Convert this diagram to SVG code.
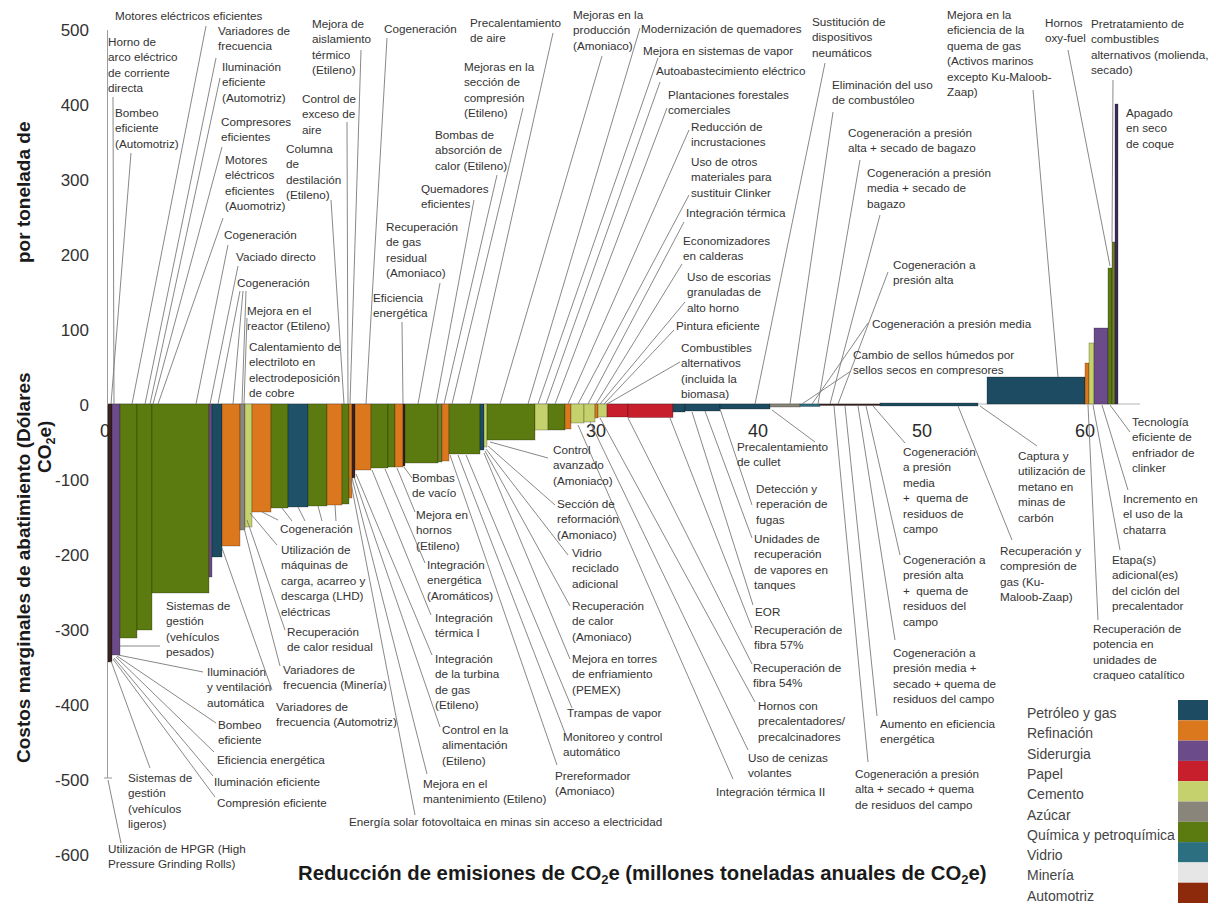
<svg xmlns="http://www.w3.org/2000/svg" width="1216" height="905" viewBox="0 0 1216 905">
<style>
  .t{font-family:"Liberation Sans",Arial,sans-serif;font-size:11.7px;fill:#333}
  .tick{font-family:"Liberation Sans",Arial,sans-serif;font-size:17px;fill:#333}
  .xtick{font-family:"Liberation Sans",Arial,sans-serif;font-size:18px;fill:#2a2a2a;text-anchor:middle}
  .lg{font-family:"Liberation Sans",Arial,sans-serif;font-size:14px;fill:#444}
  .ttl{font-family:"Liberation Sans",Arial,sans-serif;font-size:19px;font-weight:bold;fill:#1a1a1a}
  .xttl{font-family:"Liberation Sans",Arial,sans-serif;font-size:20.3px;font-weight:bold;fill:#1a1a1a}
  .ld line{stroke:#7a7a7a;stroke-width:0.9}
  .bars rect{stroke:#000;stroke-opacity:0.3;stroke-width:0.8}
  .P{fill:#1d4b61}.R{fill:#db781e}.S{fill:#6b4b89}.Pa{fill:#c71f2b}.C{fill:#c5d16c}
  .A{fill:#8a857a}.Q{fill:#5b7b10}.V{fill:#2c6f80}.M{fill:#e6e6e6}.Au{fill:#3a2222}
  .O{fill:#6d7d28}.D{fill:#3e2b58}
</style>

<!-- axes -->
<g id="axes">
  <line x1="107.5" y1="30" x2="107.5" y2="778" stroke="#9a9a9a" stroke-width="1"/>
  <line x1="104" y1="778" x2="112" y2="778" stroke="#9a9a9a" stroke-width="1"/>
  <line x1="107" y1="404" x2="1140" y2="404" stroke="#b5b5b5" stroke-width="1"/>
  <g class="tick" text-anchor="end">
    <text x="89" y="36">500</text>
    <text x="89" y="111">400</text>
    <text x="89" y="186">300</text>
    <text x="89" y="261">200</text>
    <text x="89" y="336">100</text>
    <text x="89" y="411">0</text>
    <text x="89" y="486">-100</text>
    <text x="89" y="561">-200</text>
    <text x="89" y="636">-300</text>
    <text x="89" y="711">-400</text>
    <text x="89" y="786">-500</text>
    <text x="89" y="861">-600</text>
  </g>
  <g class="xtick">
    <text x="105" y="437">0</text>
    <text x="269" y="437">10</text>
    <text x="432" y="437">20</text>
    <text x="596" y="437">30</text>
    <text x="758" y="437">40</text>
    <text x="922" y="437">50</text>
    <text x="1085" y="437">60</text>
  </g>
  <text class="ttl" transform="translate(30,763) rotate(-90)">Costos marginales de abatimiento (Dólares</text>
  <text class="ttl" transform="translate(30,263) rotate(-90)">por tonelada de</text>
  <text class="ttl" transform="translate(51,473) rotate(-90)">CO<tspan font-size="12.5" dy="4">2</tspan><tspan dy="-4">e)</tspan></text>
  <text class="xttl" x="298" y="880">Reducción de emisiones de CO<tspan font-size="13" dy="4">2</tspan><tspan dy="-4">e (millones toneladas anuales de CO</tspan><tspan font-size="13" dy="4">2</tspan><tspan dy="-4">e)</tspan></text>
</g>

<!-- abatement bars -->
<g id="bars" class="bars">
  <rect id="b01" class="Au" x="108" y="404" width="4" height="258"/>
  <rect id="b02" class="S" x="112" y="404" width="8" height="251"/>
  <rect id="b03" class="Q" x="120" y="404" width="17" height="234"/>
  <rect id="b04" class="Q" x="137" y="404" width="15" height="226"/>
  <rect id="b05" class="Q" x="152" y="404" width="57" height="189"/>
  <rect id="b06" class="S" x="209" y="404" width="3" height="173"/>
  <rect id="b07" class="P" x="212" y="404" width="10" height="153"/>
  <rect id="b08" class="R" x="222" y="404" width="18" height="142"/>
  <rect id="b09" class="A" x="240" y="404" width="5" height="126"/>
  <rect id="b10" class="C" x="245" y="404" width="7" height="123"/>
  <rect id="b11" class="R" x="252" y="404" width="19" height="108"/>
  <rect id="b12" class="Q" x="271" y="404" width="17" height="104"/>
  <rect id="b13" class="P" x="288" y="404" width="20" height="103" style="fill:#1f5269"/>
  <rect id="b14" class="Q" x="308" y="404" width="19" height="102"/>
  <rect id="b15" class="R" x="327" y="404" width="15" height="101"/>
  <rect id="b16" class="Q" x="342" y="404" width="7" height="100"/>
  <rect id="b17" class="R" x="349" y="404" width="3" height="94"/>
  <rect id="b18" class="Au" x="352" y="404" width="3" height="74"/>
  <rect id="b19" class="R" x="355" y="404" width="16" height="66"/>
  <rect id="b20" class="Q" x="371" y="404" width="17" height="64"/>
  <rect id="b21" class="Q" x="388" y="404" width="7" height="63"/>
  <rect id="b22" class="R" x="395" y="404" width="8" height="63"/>
  <rect id="b23" class="Au" x="403" y="404" width="2" height="62"/>
  <rect id="b24" class="Q" x="405" y="404" width="33" height="59"/>
  <rect id="b25" class="O" x="438" y="404" width="4" height="58"/>
  <rect id="b26" class="R" x="442" y="404" width="7" height="57"/>
  <rect id="b27" class="Q" x="449" y="404" width="31" height="50"/>
  <rect id="b28" class="P" x="480" y="404" width="4" height="46"/>
  <rect id="b29" class="C" x="484" y="404" width="3" height="43"/>
  <rect id="b30" class="Q" x="487" y="404" width="48" height="36"/>
  <rect id="b31" class="C" x="535" y="404" width="13" height="26"/>
  <rect id="b32" class="Q" x="548" y="404" width="17" height="26"/>
  <rect id="b33" class="R" x="565" y="404" width="6" height="25"/>
  <rect id="b34" class="C" x="571" y="404" width="13" height="19"/>
  <rect id="b35" class="C" x="584" y="404" width="11" height="18"/>
  <rect id="b36" class="R" x="595" y="404" width="3" height="14"/>
  <rect id="b37" class="C" x="598" y="404" width="9" height="13"/>
  <rect id="b38" class="Pa" x="607" y="404" width="21" height="13"/>
  <rect id="b39" class="Pa" x="628" y="404" width="45" height="13.5"/>
  <rect id="b40" class="P" x="673" y="404" width="12" height="8"/>
  <rect id="b41" class="P" x="685" y="404" width="35" height="7"/>
  <rect id="b42" class="P" x="720" y="404" width="50" height="5"/>
  <rect id="b43" class="A" x="770" y="404" width="30" height="3"/>
  <rect id="b44" class="V" x="800" y="404" width="20" height="2.5"/>
  <rect id="b45" class="Au" x="820" y="404" width="60" height="1.5"/>
  <rect id="b46" class="P" x="880" y="403" width="98" height="3"/>
  <rect id="b47" class="P" x="987" y="377" width="98" height="27"/>
  <rect id="b48" class="R" x="1085" y="363" width="4" height="41"/>
  <rect id="b49" class="C" x="1089" y="343" width="5" height="61"/>
  <rect id="b50" class="S" x="1094" y="328" width="14" height="76"/>
  <rect id="b51" class="Q" x="1108" y="268" width="4" height="136"/>
  <rect id="b52" class="O" x="1112" y="242" width="3" height="162"/>
  <rect id="b53" class="D" x="1115" y="104" width="3" height="300"/>
</g>

<!-- leader lines from labels to bars -->
<g id="connectors" class="ld">
  <line x1="113" y1="97" x2="114" y2="404"/>
  <line x1="131" y1="153" x2="111" y2="404"/>
  <line x1="206" y1="26" x2="132" y2="404"/>
  <line x1="216" y1="58" x2="145" y2="404"/>
  <line x1="220" y1="78" x2="150" y2="404"/>
  <line x1="222" y1="147" x2="153" y2="404"/>
  <line x1="223" y1="218" x2="158" y2="404"/>
  <line x1="228" y1="245" x2="196" y2="404"/>
  <line x1="238" y1="266" x2="210" y2="404"/>
  <line x1="240" y1="291" x2="218" y2="404"/>
  <line x1="243" y1="291" x2="233" y2="404"/>
  <line x1="246" y1="291" x2="242" y2="404"/>
  <line x1="247" y1="318" x2="244" y2="404"/>
  <line x1="361" y1="50" x2="350" y2="404"/>
  <line x1="347" y1="122" x2="348" y2="404"/>
  <line x1="331" y1="200" x2="344" y2="404"/>
  <line x1="387" y1="38" x2="366" y2="404"/>
  <line x1="402" y1="322" x2="403" y2="404"/>
  <line x1="440" y1="283" x2="418" y2="404"/>
  <line x1="474" y1="200" x2="436" y2="404"/>
  <line x1="497" y1="175" x2="444" y2="404"/>
  <line x1="523" y1="108" x2="452" y2="404"/>
  <line x1="553" y1="33" x2="470" y2="404"/>
  <line x1="602" y1="56" x2="500" y2="404"/>
  <line x1="640" y1="28" x2="528" y2="404"/>
  <line x1="658" y1="58" x2="538" y2="404"/>
  <line x1="660" y1="82" x2="546" y2="404"/>
  <line x1="667" y1="108" x2="555" y2="404"/>
  <line x1="689" y1="130" x2="568" y2="404"/>
  <line x1="689" y1="195" x2="578" y2="404"/>
  <line x1="684" y1="222" x2="588" y2="404"/>
  <line x1="682" y1="264" x2="596" y2="404"/>
  <line x1="685" y1="302" x2="600" y2="404"/>
  <line x1="674" y1="330" x2="604" y2="404"/>
  <line x1="680" y1="362" x2="607" y2="404"/>
  <line x1="825" y1="63" x2="755" y2="404"/>
  <line x1="833" y1="112" x2="790" y2="404"/>
  <line x1="860" y1="160" x2="818" y2="404"/>
  <line x1="880" y1="215" x2="830" y2="404"/>
  <line x1="888" y1="272" x2="838" y2="404"/>
  <line x1="868" y1="323" x2="812" y2="404"/>
  <line x1="851" y1="371" x2="802" y2="404"/>
  <line x1="1033" y1="90" x2="1058" y2="377"/>
  <line x1="1068" y1="50" x2="1110" y2="266"/>
  <line x1="1113" y1="80" x2="1112" y2="242"/>
  <!-- below the axis -->
  <line x1="120" y1="646" x2="160" y2="646"/>
  <line x1="118" y1="655" x2="203" y2="672"/>
  <line x1="117" y1="656" x2="216" y2="723"/>
  <line x1="116" y1="657" x2="214" y2="752"/>
  <line x1="114" y1="658" x2="213" y2="776"/>
  <line x1="113" y1="659" x2="215" y2="797"/>
  <line x1="111" y1="661" x2="150" y2="768"/>
  <line x1="108" y1="780" x2="121" y2="843"/>
  <line x1="278" y1="520" x2="262" y2="512"/>
  <line x1="292" y1="521" x2="282" y2="508"/>
  <line x1="305" y1="521" x2="298" y2="507"/>
  <line x1="322" y1="521" x2="318" y2="506"/>
  <line x1="336" y1="521" x2="335" y2="505"/>
  <line x1="250" y1="513" x2="277" y2="545"/>
  <line x1="247" y1="520" x2="285" y2="630"/>
  <line x1="244" y1="528" x2="280" y2="666"/>
  <line x1="222" y1="548" x2="272" y2="690"/>
  <line x1="404" y1="467" x2="412" y2="478"/>
  <line x1="397" y1="468" x2="415" y2="512"/>
  <line x1="385" y1="469" x2="425" y2="563"/>
  <line x1="372" y1="470" x2="431" y2="615"/>
  <line x1="356" y1="474" x2="432" y2="655"/>
  <line x1="354" y1="477" x2="440" y2="727"/>
  <line x1="352" y1="478" x2="427" y2="774"/>
  <line x1="350" y1="478" x2="415" y2="815"/>
  <line x1="490" y1="442" x2="548" y2="458"/>
  <line x1="488" y1="446" x2="555" y2="505"/>
  <line x1="486" y1="449" x2="568" y2="555"/>
  <line x1="485" y1="451" x2="570" y2="606"/>
  <line x1="484" y1="453" x2="570" y2="659"/>
  <line x1="466" y1="455" x2="572" y2="708"/>
  <line x1="458" y1="455" x2="565" y2="733"/>
  <line x1="450" y1="455" x2="557" y2="765"/>
  <line x1="772" y1="410" x2="815" y2="442"/>
  <line x1="720" y1="409" x2="752" y2="505"/>
  <line x1="705" y1="411" x2="752" y2="538"/>
  <line x1="692" y1="412" x2="753" y2="605"/>
  <line x1="670" y1="418" x2="752" y2="628"/>
  <line x1="628" y1="418" x2="752" y2="664"/>
  <line x1="600" y1="418" x2="755" y2="702"/>
  <line x1="590" y1="422" x2="748" y2="750"/>
  <line x1="578" y1="425" x2="733" y2="779"/>
  <line x1="873" y1="406" x2="905" y2="443"/>
  <line x1="866" y1="406" x2="900" y2="555"/>
  <line x1="858" y1="406" x2="895" y2="640"/>
  <line x1="845" y1="406" x2="877" y2="716"/>
  <line x1="834" y1="406" x2="868" y2="762"/>
  <line x1="980" y1="406" x2="1037" y2="446"/>
  <line x1="958" y1="406" x2="1012" y2="540"/>
  <line x1="1110" y1="405" x2="1130" y2="432"/>
  <line x1="1102" y1="405" x2="1128" y2="490"/>
  <line x1="1093" y1="405" x2="1120" y2="550"/>
  <line x1="1088" y1="405" x2="1098" y2="620"/>
</g>

<!-- measure labels, upper half -->
<g id="n-motores"><text class="t" x="115" y="20">Motores eléctricos eficientes</text></g>
<g id="n-horno"><text class="t" x="108" y="46"><tspan x="108">Horno de</tspan><tspan x="108" dy="15.4">arco eléctrico</tspan><tspan x="108" dy="15.4">de corriente</tspan><tspan x="108" dy="15.4">directa</tspan></text></g>
<g id="n-bombeo-auto"><text class="t" x="115" y="117"><tspan x="115">Bombeo</tspan><tspan x="115" dy="15.4">eficiente</tspan><tspan x="115" dy="15.4">(Automotriz)</tspan></text></g>
<g id="n-variadores"><text class="t" x="218" y="35"><tspan x="218">Variadores de</tspan><tspan x="218" dy="15.4">frecuencia</tspan></text></g>
<g id="n-ilum-auto"><text class="t" x="222" y="71"><tspan x="222">Iluminación</tspan><tspan x="222" dy="15.4">eficiente</tspan><tspan x="222" dy="15.4">(Automotriz)</tspan></text></g>
<g id="n-compresores"><text class="t" x="221" y="126"><tspan x="221">Compresores</tspan><tspan x="221" dy="15.4">eficientes</tspan></text></g>
<g id="n-motores-auto"><text class="t" x="225" y="164"><tspan x="225">Motores</tspan><tspan x="225" dy="15.4">eléctricos</tspan><tspan x="225" dy="15.4">eficientes</tspan><tspan x="225" dy="15.4">(Auomotriz)</tspan></text></g>
<g id="n-cogen1"><text class="t" x="224" y="239">Cogeneración</text></g>
<g id="n-vaciado"><text class="t" x="236" y="261">Vaciado directo</text></g>
<g id="n-cogen2"><text class="t" x="237" y="287">Cogeneración</text></g>
<g id="n-reactor"><text class="t" x="247" y="315"><tspan x="247">Mejora en el</tspan><tspan x="247" dy="15.4">reactor (Etileno)</tspan></text></g>
<g id="n-electrolito"><text class="t" x="249" y="351"><tspan x="249">Calentamiento de</tspan><tspan x="249" dy="15.4">electriloto en</tspan><tspan x="249" dy="15.4">electrodeposición</tspan><tspan x="249" dy="15.4">de cobre</tspan></text></g>
<g id="n-aislamiento"><text class="t" x="312" y="28"><tspan x="312">Mejora de</tspan><tspan x="312" dy="15.4">aislamiento</tspan><tspan x="312" dy="15.4">térmico</tspan><tspan x="312" dy="15.4">(Etileno)</tspan></text></g>
<g id="n-exceso-aire"><text class="t" x="302" y="103"><tspan x="302">Control de</tspan><tspan x="302" dy="15.4">exceso de</tspan><tspan x="302" dy="15.4">aire</tspan></text></g>
<g id="n-columna"><text class="t" x="286" y="153"><tspan x="286">Columna</tspan><tspan x="286" dy="15.4">de</tspan><tspan x="286" dy="15.4">destilación</tspan><tspan x="286" dy="15.4">(Etileno)</tspan></text></g>
<g id="n-cogen3"><text class="t" x="384" y="33">Cogeneración</text></g>
<g id="n-gas-residual"><text class="t" x="386" y="231"><tspan x="386">Recuperación</tspan><tspan x="386" dy="15.4">de gas</tspan><tspan x="386" dy="15.4">residual</tspan><tspan x="386" dy="15.4">(Amoniaco)</tspan></text></g>
<g id="n-eficiencia1"><text class="t" x="373" y="302"><tspan x="373">Eficiencia</tspan><tspan x="373" dy="15.4">energética</tspan></text></g>
<g id="n-precal-aire"><text class="t" x="470" y="27"><tspan x="470">Precalentamiento</tspan><tspan x="470" dy="15.4">de aire</tspan></text></g>
<g id="n-seccion-comp"><text class="t" x="464" y="71"><tspan x="464">Mejoras en la</tspan><tspan x="464" dy="15.4">sección de</tspan><tspan x="464" dy="15.4">compresión</tspan><tspan x="464" dy="15.4">(Etileno)</tspan></text></g>
<g id="n-absorcion"><text class="t" x="435" y="139"><tspan x="435">Bombas de</tspan><tspan x="435" dy="15.4">absorción de</tspan><tspan x="435" dy="15.4">calor (Etileno)</tspan></text></g>
<g id="n-quemadores"><text class="t" x="421" y="193"><tspan x="421">Quemadores</tspan><tspan x="421" dy="15.4">eficientes</tspan></text></g>
<g id="n-produccion"><text class="t" x="573" y="19"><tspan x="573">Mejoras en la</tspan><tspan x="573" dy="15.4">producción</tspan><tspan x="573" dy="15.4">(Amoniaco)</tspan></text></g>
<g id="n-modernizacion"><text class="t" x="641" y="33">Modernización de quemadores</text></g>
<g id="n-sist-vapor"><text class="t" x="643" y="55">Mejora en sistemas de vapor</text></g>
<g id="n-autoabasto"><text class="t" x="656" y="75">Autoabastecimiento eléctrico</text></g>
<g id="n-plantaciones"><text class="t" x="668" y="99"><tspan x="668">Plantaciones forestales</tspan><tspan x="668" dy="15.4">comerciales</tspan></text></g>
<g id="n-incrustaciones"><text class="t" x="691" y="131"><tspan x="691">Reducción de</tspan><tspan x="691" dy="15.4">incrustaciones</tspan></text></g>
<g id="n-clinker"><text class="t" x="691" y="166"><tspan x="691">Uso de otros</tspan><tspan x="691" dy="15.4">materiales para</tspan><tspan x="691" dy="15.4">sustituir Clinker</tspan></text></g>
<g id="n-integ-term"><text class="t" x="686" y="217">Integración térmica</text></g>
<g id="n-economizadores"><text class="t" x="683" y="245"><tspan x="683">Economizadores</tspan><tspan x="683" dy="15.4">en calderas</tspan></text></g>
<g id="n-escorias"><text class="t" x="687" y="281"><tspan x="687">Uso de escorias</tspan><tspan x="687" dy="15.4">granuladas de</tspan><tspan x="687" dy="15.4">alto horno</tspan></text></g>
<g id="n-pintura"><text class="t" x="676" y="330">Pintura eficiente</text></g>
<g id="n-combustibles"><text class="t" x="681" y="352"><tspan x="681">Combustibles</tspan><tspan x="681" dy="15.4">alternativos</tspan><tspan x="681" dy="15.4">(incluida la</tspan><tspan x="681" dy="15.4">biomasa)</tspan></text></g>
<g id="n-neumaticos"><text class="t" x="812" y="26"><tspan x="812">Sustitución de</tspan><tspan x="812" dy="15.4">dispositivos</tspan><tspan x="812" dy="15.4">neumáticos</tspan></text></g>
<g id="n-combustoleo"><text class="t" x="832" y="89"><tspan x="832">Eliminación del uso</tspan><tspan x="832" dy="15.4">de combustóleo</tspan></text></g>
<g id="n-cogen-alta-bagazo"><text class="t" x="848" y="137"><tspan x="848">Cogeneración a presión</tspan><tspan x="848" dy="15.4">alta + secado de bagazo</tspan></text></g>
<g id="n-cogen-media-bagazo"><text class="t" x="867" y="177"><tspan x="867">Cogeneración a presión</tspan><tspan x="867" dy="15.4">media + secado de</tspan><tspan x="867" dy="15.4">bagazo</tspan></text></g>
<g id="n-cogen-alta"><text class="t" x="893" y="269"><tspan x="893">Cogeneración a</tspan><tspan x="893" dy="15.4">presión alta</tspan></text></g>
<g id="n-cogen-media"><text class="t" x="872" y="328">Cogeneración a presión media</text></g>
<g id="n-sellos"><text class="t" x="853" y="359"><tspan x="853">Cambio de sellos húmedos por</tspan><tspan x="853" dy="15.4">sellos secos en compresores</tspan></text></g>
<g id="n-quema-gas"><text class="t" x="947" y="19"><tspan x="947">Mejora en la</tspan><tspan x="947" dy="15.4">eficiencia de la</tspan><tspan x="947" dy="15.4">quema de gas</tspan><tspan x="947" dy="15.4">(Activos marinos</tspan><tspan x="947" dy="15.4">excepto Ku-Maloob-</tspan><tspan x="947" dy="15.4">Zaap)</tspan></text></g>
<g id="n-oxyfuel"><text class="t" x="1045" y="27"><tspan x="1045">Hornos</tspan><tspan x="1045" dy="15.4">oxy-fuel</tspan></text></g>
<g id="n-pretratamiento"><text class="t" x="1091" y="28"><tspan x="1091">Pretratamiento de</tspan><tspan x="1091" dy="15.4">combustibles</tspan><tspan x="1091" dy="15.4">alternativos (molienda,</tspan><tspan x="1091" dy="15.4">secado)</tspan></text></g>
<g id="n-coque"><text class="t" x="1126" y="117"><tspan x="1126">Apagado</tspan><tspan x="1126" dy="15.4">en seco</tspan><tspan x="1126" dy="15.4">de coque</tspan></text></g>

<!-- measure labels, lower half -->
<g id="n-gestion-pesados"><text class="t" x="166" y="610"><tspan x="166">Sistemas de</tspan><tspan x="166" dy="15.4">gestión</tspan><tspan x="166" dy="15.4">(vehículos</tspan><tspan x="166" dy="15.4">pesados)</tspan></text></g>
<g id="n-ventilacion"><text class="t" x="207" y="676"><tspan x="207">Iluminación</tspan><tspan x="207" dy="15.4">y ventilación</tspan><tspan x="207" dy="15.4">automática</tspan></text></g>
<g id="n-bombeo"><text class="t" x="218" y="729"><tspan x="218">Bombeo</tspan><tspan x="218" dy="15.4">eficiente</tspan></text></g>
<g id="n-eficiencia2"><text class="t" x="217" y="764">Eficiencia energética</text></g>
<g id="n-gestion-ligeros"><text class="t" x="128" y="782"><tspan x="128">Sistemas de</tspan><tspan x="128" dy="15.4">gestión</tspan><tspan x="128" dy="15.4">(vehículos</tspan><tspan x="128" dy="15.4">ligeros)</tspan></text></g>
<g id="n-ilum"><text class="t" x="214" y="786">Iluminación eficiente</text></g>
<g id="n-compresion"><text class="t" x="217" y="807">Compresión eficiente</text></g>
<g id="n-hpgr"><text class="t" x="108" y="853"><tspan x="108">Utilización de HPGR (High</tspan><tspan x="108" dy="15.4">Pressure Grinding Rolls)</tspan></text></g>
<g id="n-cogen4"><text class="t" x="280" y="533">Cogeneración</text></g>
<g id="n-lhd"><text class="t" x="281" y="554"><tspan x="281">Utilización de</tspan><tspan x="281" dy="15.4">máquinas de</tspan><tspan x="281" dy="15.4">carga, acarreo y</tspan><tspan x="281" dy="15.4">descarga (LHD)</tspan><tspan x="281" dy="15.4">eléctricas</tspan></text></g>
<g id="n-calor-residual"><text class="t" x="287" y="636"><tspan x="287">Recuperación</tspan><tspan x="287" dy="15.4">de calor residual</tspan></text></g>
<g id="n-var-mineria"><text class="t" x="283" y="674"><tspan x="283">Variadores de</tspan><tspan x="283" dy="15.4">frecuencia (Minería)</tspan></text></g>
<g id="n-var-auto"><text class="t" x="276" y="711"><tspan x="276">Variadores de</tspan><tspan x="276" dy="15.4">frecuencia (Automotriz)</tspan></text></g>
<g id="n-vacio"><text class="t" x="412" y="482"><tspan x="412">Bombas</tspan><tspan x="412" dy="15.4">de vacío</tspan></text></g>
<g id="n-hornos-etileno"><text class="t" x="416" y="519"><tspan x="416">Mejora en</tspan><tspan x="416" dy="15.4">hornos</tspan><tspan x="416" dy="15.4">(Etileno)</tspan></text></g>
<g id="n-aromaticos"><text class="t" x="427" y="569"><tspan x="427">Integración</tspan><tspan x="427" dy="15.4">energética</tspan><tspan x="427" dy="15.4">(Aromáticos)</tspan></text></g>
<g id="n-integ-1"><text class="t" x="435" y="622"><tspan x="435">Integración</tspan><tspan x="435" dy="15.4">térmica I</tspan></text></g>
<g id="n-turbina"><text class="t" x="435" y="663"><tspan x="435">Integración</tspan><tspan x="435" dy="15.4">de la turbina</tspan><tspan x="435" dy="15.4">de gas</tspan><tspan x="435" dy="15.4">(Etileno)</tspan></text></g>
<g id="n-alimentacion"><text class="t" x="442" y="734"><tspan x="442">Control en la</tspan><tspan x="442" dy="15.4">alimentación</tspan><tspan x="442" dy="15.4">(Etileno)</tspan></text></g>
<g id="n-mantenimiento"><text class="t" x="423" y="788"><tspan x="423">Mejora en el</tspan><tspan x="423" dy="15.4">mantenimiento (Etileno)</tspan></text></g>
<g id="n-solar"><text class="t" x="349" y="826">Energía solar fotovoltaica en minas sin acceso a electricidad</text></g>
<g id="n-control-avanzado"><text class="t" x="553" y="454"><tspan x="553">Control</tspan><tspan x="553" dy="15.4">avanzado</tspan><tspan x="553" dy="15.4">(Amoniaco)</tspan></text></g>
<g id="n-reformacion"><text class="t" x="557" y="508"><tspan x="557">Sección de</tspan><tspan x="557" dy="15.4">reformación</tspan><tspan x="557" dy="15.4">(Amoniaco)</tspan></text></g>
<g id="n-vidrio"><text class="t" x="572" y="557"><tspan x="572">Vidrio</tspan><tspan x="572" dy="15.4">reciclado</tspan><tspan x="572" dy="15.4">adicional</tspan></text></g>
<g id="n-calor-amoniaco"><text class="t" x="572" y="610"><tspan x="572">Recuperación</tspan><tspan x="572" dy="15.4">de calor</tspan><tspan x="572" dy="15.4">(Amoniaco)</tspan></text></g>
<g id="n-torres"><text class="t" x="572" y="663"><tspan x="572">Mejora en torres</tspan><tspan x="572" dy="15.4">de enfriamiento</tspan><tspan x="572" dy="15.4">(PEMEX)</tspan></text></g>
<g id="n-trampas"><text class="t" x="567" y="717">Trampas de vapor</text></g>
<g id="n-monitoreo"><text class="t" x="563" y="741"><tspan x="563">Monitoreo y control</tspan><tspan x="563" dy="15.4">automático</tspan></text></g>
<g id="n-prereformador"><text class="t" x="555" y="780"><tspan x="555">Prereformador</tspan><tspan x="555" dy="15.4">(Amoniaco)</tspan></text></g>
<g id="n-cullet"><text class="t" x="737" y="451"><tspan x="737">Precalentamiento</tspan><tspan x="737" dy="15.4">de cullet</tspan></text></g>
<g id="n-fugas"><text class="t" x="756" y="493"><tspan x="756">Detección y</tspan><tspan x="756" dy="15.4">reperación de</tspan><tspan x="756" dy="15.4">fugas</tspan></text></g>
<g id="n-vapores"><text class="t" x="754" y="543"><tspan x="754">Unidades de</tspan><tspan x="754" dy="15.4">recuperación</tspan><tspan x="754" dy="15.4">de vapores en</tspan><tspan x="754" dy="15.4">tanques</tspan></text></g>
<g id="n-eor"><text class="t" x="755" y="616">EOR</text></g>
<g id="n-fibra57"><text class="t" x="754" y="634"><tspan x="754">Recuperación de</tspan><tspan x="754" dy="15.4">fibra 57%</tspan></text></g>
<g id="n-fibra54"><text class="t" x="753" y="672"><tspan x="753">Recuperación de</tspan><tspan x="753" dy="15.4">fibra 54%</tspan></text></g>
<g id="n-precalcinadores"><text class="t" x="758" y="710"><tspan x="758">Hornos con</tspan><tspan x="758" dy="15.4">precalentadores/</tspan><tspan x="758" dy="15.4">precalcinadores</tspan></text></g>
<g id="n-cenizas"><text class="t" x="748" y="762"><tspan x="748">Uso de cenizas</tspan><tspan x="748" dy="15.4">volantes</tspan></text></g>
<g id="n-integ-2"><text class="t" x="716" y="796">Integración térmica II</text></g>
<g id="n-cogen-media-quema"><text class="t" x="903" y="456" xml:space="preserve"><tspan x="903">Cogeneración</tspan><tspan x="903" dy="15.4">a presión</tspan><tspan x="903" dy="15.4">media</tspan><tspan x="903" dy="15.4">+  quema de</tspan><tspan x="903" dy="15.4">residuos de</tspan><tspan x="903" dy="15.4">campo</tspan></text></g>
<g id="n-cogen-alta-quema"><text class="t" x="903" y="564" xml:space="preserve"><tspan x="903">Cogeneración a</tspan><tspan x="903" dy="15.4">presión alta</tspan><tspan x="903" dy="15.4">+  quema de</tspan><tspan x="903" dy="15.4">residuos del</tspan><tspan x="903" dy="15.4">campo</tspan></text></g>
<g id="n-cogen-media-secado"><text class="t" x="893" y="657"><tspan x="893">Cogeneración a</tspan><tspan x="893" dy="15.4">presión media +</tspan><tspan x="893" dy="15.4">secado + quema de</tspan><tspan x="893" dy="15.4">residuos del campo</tspan></text></g>
<g id="n-aumento"><text class="t" x="880" y="728"><tspan x="880">Aumento en eficiencia</tspan><tspan x="880" dy="15.4">energética</tspan></text></g>
<g id="n-cogen-alta-secado"><text class="t" x="855" y="778"><tspan x="855">Cogeneración a presión</tspan><tspan x="855" dy="15.4">alta + secado + quema</tspan><tspan x="855" dy="15.4">de residuos del campo</tspan></text></g>
<g id="n-metano"><text class="t" x="1018" y="460"><tspan x="1018">Captura y</tspan><tspan x="1018" dy="15.4">utilización de</tspan><tspan x="1018" dy="15.4">metano en</tspan><tspan x="1018" dy="15.4">minas de</tspan><tspan x="1018" dy="15.4">carbón</tspan></text></g>
<g id="n-kmz"><text class="t" x="1000" y="555"><tspan x="1000">Recuperación y</tspan><tspan x="1000" dy="15.4">compresión de</tspan><tspan x="1000" dy="15.4">gas (Ku-</tspan><tspan x="1000" dy="15.4">Maloob-Zaap)</tspan></text></g>
<g id="n-enfriador"><text class="t" x="1132" y="426"><tspan x="1132">Tecnología</tspan><tspan x="1132" dy="15.4">eficiente de</tspan><tspan x="1132" dy="15.4">enfriador de</tspan><tspan x="1132" dy="15.4">clinker</tspan></text></g>
<g id="n-chatarra"><text class="t" x="1123" y="503"><tspan x="1123">Incremento en</tspan><tspan x="1123" dy="15.4">el uso de la</tspan><tspan x="1123" dy="15.4">chatarra</tspan></text></g>
<g id="n-ciclon"><text class="t" x="1112" y="564"><tspan x="1112">Etapa(s)</tspan><tspan x="1112" dy="15.4">adicional(es)</tspan><tspan x="1112" dy="15.4">del ciclón del</tspan><tspan x="1112" dy="15.4">precalentador</tspan></text></g>
<g id="n-craqueo"><text class="t" x="1093" y="633"><tspan x="1093">Recuperación de</tspan><tspan x="1093" dy="15.4">potencia en</tspan><tspan x="1093" dy="15.4">unidades de</tspan><tspan x="1093" dy="15.4">craqueo catalítico</tspan></text></g>

<!-- sector legend -->
<g id="legend">
  <rect x="1178" y="700" width="30" height="20.3" class="P"/>
  <rect x="1178" y="720.3" width="30" height="20.3" class="R"/>
  <rect x="1178" y="740.6" width="30" height="20.3" class="S"/>
  <rect x="1178" y="760.9" width="30" height="20.3" class="Pa"/>
  <rect x="1178" y="781.2" width="30" height="20.3" class="C"/>
  <rect x="1178" y="801.5" width="30" height="20.3" class="A"/>
  <rect x="1178" y="821.8" width="30" height="20.3" class="Q"/>
  <rect x="1178" y="842.1" width="30" height="20.3" class="V"/>
  <rect x="1178" y="862.4" width="30" height="20.3" class="M"/>
  <rect x="1178" y="882.7" width="30" height="20.3" style="fill:#8c2a0b"/>
  <text class="lg" x="1027" y="718">Petróleo y gas</text>
  <text class="lg" x="1027" y="738.3">Refinación</text>
  <text class="lg" x="1027" y="758.6">Siderurgia</text>
  <text class="lg" x="1027" y="778.9">Papel</text>
  <text class="lg" x="1027" y="799.2">Cemento</text>
  <text class="lg" x="1027" y="819.5">Azúcar</text>
  <text class="lg" x="1027" y="839.8">Química y petroquímica</text>
  <text class="lg" x="1027" y="860.1">Vidrio</text>
  <text class="lg" x="1027" y="880.4">Minería</text>
  <text class="lg" x="1027" y="900.7">Automotriz</text>
</g>
</svg>
